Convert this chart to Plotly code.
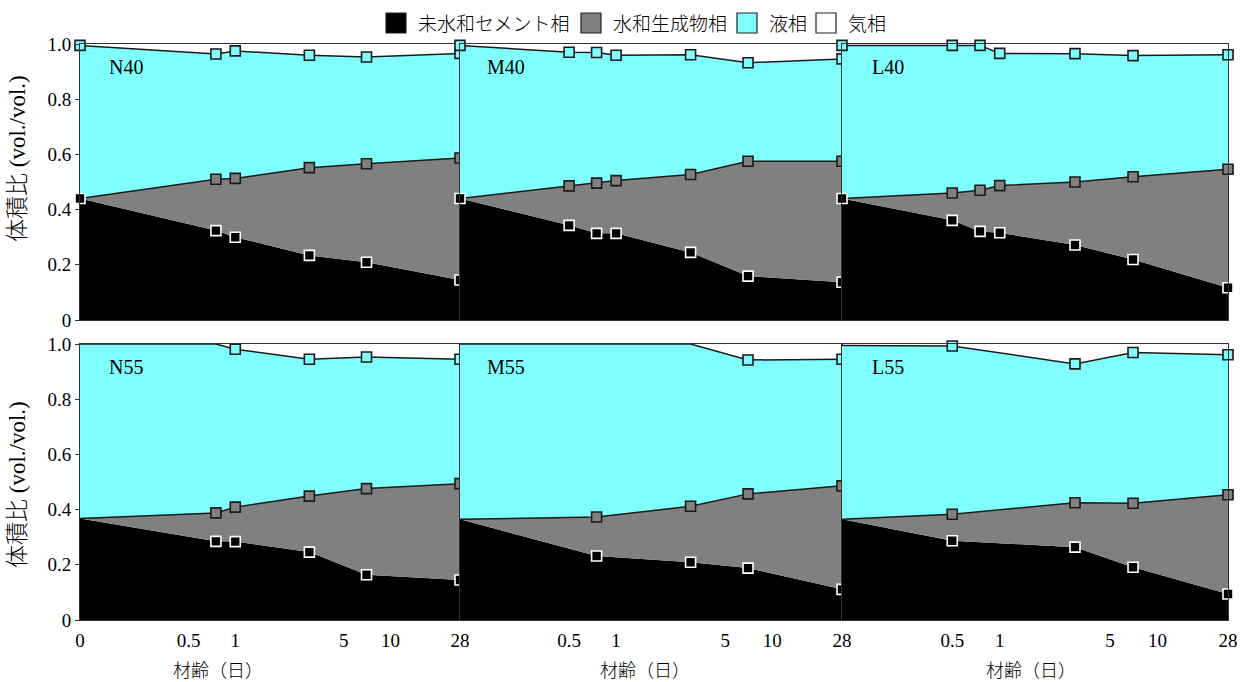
import math
import plotly.graph_objects as go

W, H = 1245, 682

# ---------------- data (cumulative volume fractions) ----------------
# age in days; *_CEM = top of unhydrated cement, *_HYD = top of hydration products,
# *_LIQ = top of liquid phase (above it: gas phase up to 1.0)
N40_AGE = [0, 0.75, 1, 3, 7, 28]
N40_CEM = [0.44, 0.324, 0.300, 0.234, 0.209, 0.145]
N40_HYD = [0.44, 0.510, 0.513, 0.552, 0.566, 0.587]
N40_LIQ = [0.995, 0.964, 0.975, 0.959, 0.953, 0.966]

M40_AGE = [0, 0.5, 0.75, 1, 3, 7, 28]
M40_CEM = [0.44, 0.343, 0.314, 0.314, 0.245, 0.159, 0.137]
M40_HYD = [0.44, 0.486, 0.496, 0.505, 0.527, 0.575, 0.575]
M40_LIQ = [0.995, 0.970, 0.969, 0.959, 0.961, 0.932, 0.946]

L40_AGE = [0, 0.5, 0.75, 1, 3, 7, 28]
L40_CEM = [0.44, 0.361, 0.321, 0.316, 0.272, 0.219, 0.117]
L40_HYD = [0.44, 0.460, 0.470, 0.487, 0.500, 0.519, 0.546]
L40_LIQ = [0.995, 0.995, 0.995, 0.966, 0.965, 0.958, 0.961]

N55_AGE = [0, 0.75, 1, 3, 7, 28]
N55_CEM = [0.368, 0.285, 0.284, 0.246, 0.164, 0.145]
N55_HYD = [0.368, 0.388, 0.409, 0.449, 0.476, 0.494]
N55_LIQ = [1.0, 1.0, 0.981, 0.945, 0.953, 0.945]

M55_AGE = [0, 0.75, 3, 7, 28]
M55_CEM = [0.365, 0.232, 0.209, 0.188, 0.111]
M55_HYD = [0.365, 0.373, 0.412, 0.457, 0.486]
M55_LIQ = [1.0, 1.0, 1.0, 0.942, 0.945]

L55_AGE = [0, 0.5, 3, 7, 28]
L55_CEM = [0.365, 0.287, 0.264, 0.191, 0.094]
L55_HYD = [0.365, 0.383, 0.425, 0.423, 0.454]
L55_LIQ = [0.995, 0.993, 0.928, 0.969, 0.961]

# index of the first measured (marked) point of each boundary: (cement, hydrate, liquid)
N40_MARK = (0, 1, 0)
M40_MARK = (0, 1, 0)
L40_MARK = (0, 1, 0)
N55_MARK = (1, 1, 2)
M55_MARK = (1, 1, 3)
L55_MARK = (1, 1, 1)

PANEL_NAMES = ["N40", "M40", "L40", "N55", "M55", "L55"]
PANELS = [
    (N40_AGE, N40_CEM, N40_HYD, N40_LIQ, N40_MARK),
    (M40_AGE, M40_CEM, M40_HYD, M40_LIQ, M40_MARK),
    (L40_AGE, L40_CEM, L40_HYD, L40_LIQ, L40_MARK),
    (N55_AGE, N55_CEM, N55_HYD, N55_LIQ, N55_MARK),
    (M55_AGE, M55_CEM, M55_HYD, M55_LIQ, M55_MARK),
    (L55_AGE, L55_CEM, L55_HYD, L55_LIQ, L55_MARK),
]

LEGEND_LABELS = ["未水和セメント相", "水和生成物相", "液相", "気相"]
X_TICK_VALUES = [0, 0.5, 1, 5, 10, 28]
X_TICK_LABELS = ["0", "0.5", "1", "5", "10", "28"]
Y_TICK_VALUES = [0, 0.2, 0.4, 0.6, 0.8, 1.0]
Y_TICK_LABELS = ["0", "0.2", "0.4", "0.6", "0.8", "1.0"]
X_TITLE = "材齢（日）"
Y_TITLE = "体積比 (vol./vol.)"

# ---------------- styling ----------------
AGE0_POS = 0.1          # where age 0 sits on the log axis (left end)
AGE_MAX = 28
C_CEM = "#000000"
C_HYD = "#808080"
C_LIQ = "#80ffff"
C_EDGE = "#1a1a1a"
FRAME = "#333333"
SERIF = "Liberation Serif, Noto Sans CJK JP, serif"
CJK = "Noto Sans CJK JP, sans-serif"

COL_PX = [(80, 460), (460, 842), (842, 1228)]
ROW_PX = [(44, 320), (344, 620)]


def px(x):
    return x / W


def py(y):
    return 1 - y / H


def xpos(a):
    return a if a > 0 else AGE0_POS


fig = go.Figure()
layout = dict(
    width=W, height=H, margin=dict(l=0, r=0, t=0, b=0, pad=0, autoexpand=False),
    paper_bgcolor="white", plot_bgcolor="rgba(0,0,0,0)", showlegend=False,
)
annotations = []
shapes = []

for i, (ages, cem, hyd, liq, mark) in enumerate(PANELS):
    s = "" if i == 0 else str(i + 1)
    xa, ya = "x" + s, "y" + s
    row, col = divmod(i, 3)
    xs = [xpos(a) for a in ages]

    fig.add_trace(go.Scatter(x=xs, y=cem, mode="lines", fill="tozeroy", fillcolor=C_CEM,
                             line=dict(width=0, color=C_CEM), xaxis=xa, yaxis=ya, hoverinfo="skip"))
    fig.add_trace(go.Scatter(x=xs, y=hyd, mode="lines", fill="tonexty", fillcolor=C_HYD,
                             line=dict(width=1.5, color=C_EDGE), xaxis=xa, yaxis=ya, hoverinfo="skip"))
    fig.add_trace(go.Scatter(x=xs, y=liq, mode="lines", fill="tonexty", fillcolor=C_LIQ,
                             line=dict(width=1.5, color=C_EDGE), xaxis=xa, yaxis=ya, hoverinfo="skip"))
    # markers
    for vals, k, fillc, edgec in ((liq, mark[2], C_LIQ, C_EDGE),
                                  (hyd, mark[1], C_HYD, C_EDGE),
                                  (cem, mark[0], C_CEM, "#ffffff")):
        fig.add_trace(go.Scatter(x=xs[k:], y=vals[k:], mode="markers", cliponaxis=False,
                                 marker=dict(symbol="square", size=10, color=fillc,
                                             line=dict(width=1.6, color=edgec)),
                                 xaxis=xa, yaxis=ya))

    if col == 0:
        tv = [xpos(v) for v in X_TICK_VALUES]
        tt = X_TICK_LABELS
    else:
        tv = [xpos(v) for v in X_TICK_VALUES if v > 0]
        tt = [t for v, t in zip(X_TICK_VALUES, X_TICK_LABELS) if v > 0]
    c0, c1 = COL_PX[col]
    r0, r1 = ROW_PX[row]
    layout["xaxis" + s] = dict(
        type="log", range=[math.log10(AGE0_POS), math.log10(AGE_MAX)],
        domain=[px(c0), px(c1)], anchor=ya, automargin=False,
        showline=True, mirror=True, linecolor=FRAME, linewidth=1,
        showgrid=False, zeroline=False, ticks="outside", ticklen=3, tickcolor="rgba(0,0,0,0)",
        tickvals=tv, ticktext=tt, showticklabels=(row == 1),
        tickfont=dict(family=SERIF, size=19, color="black"), fixedrange=True,
    )
    layout["yaxis" + s] = dict(
        range=[0, 1], domain=[py(r1), py(r0)], anchor=xa, automargin=False,
        showline=True, mirror=True, linecolor=FRAME, linewidth=1,
        showgrid=False, zeroline=False,
        ticks="outside" if col == 0 else "", ticklen=4, tickcolor=FRAME,
        tickvals=Y_TICK_VALUES, ticktext=Y_TICK_LABELS, showticklabels=(col == 0),
        tickfont=dict(family=SERIF, size=19, color="black"), fixedrange=True,
    )
    annotations.append(dict(text=PANEL_NAMES[i], x=px(c0 + 46), y=py(r0 + 23),
                            xref="paper", yref="paper", showarrow=False,
                            xanchor="center", yanchor="middle",
                            font=dict(family=SERIF, size=20, color="black")))

# x-axis titles
for xc in (218, 645, 1031):
    annotations.append(dict(text=X_TITLE, x=px(xc), y=py(669), xref="paper", yref="paper",
                            showarrow=False, xanchor="center", yanchor="middle",
                            font=dict(family=CJK, size=18, color="black", weight=300)))
# y-axis titles
for yc in (159, 485):
    annotations.append(dict(text=Y_TITLE, x=px(17), y=py(yc), xref="paper", yref="paper",
                            showarrow=False, xanchor="center", yanchor="middle", textangle=-90,
                            font=dict(family=SERIF, size=23, color="black", weight=300)))

# legend (drawn manually to match square size)
LEG_SQ_X = [386, 581, 737, 816]
LEG_TX_X = [416, 611, 767, 846]
LEG_FILL = [C_CEM, C_HYD, C_LIQ, "#ffffff"]
for lab, sx, tx, fc in zip(LEGEND_LABELS, LEG_SQ_X, LEG_TX_X, LEG_FILL):
    shapes.append(dict(type="rect", xref="paper", yref="paper",
                       x0=px(sx), x1=px(sx + 20), y0=py(33), y1=py(13),
                       fillcolor=fc, line=dict(color="#222222", width=1.2)))
    annotations.append(dict(text=lab, x=px(tx), y=py(23), xref="paper", yref="paper",
                            showarrow=False, xanchor="left", yanchor="middle",
                            font=dict(family=CJK, size=19, color="black", weight=300)))

layout["annotations"] = annotations
layout["shapes"] = shapes
fig.update_layout(**layout)
fig.write_html("out.html", config={"displayModeBar": False},
               post_script="document.body.style.margin='0px';")
